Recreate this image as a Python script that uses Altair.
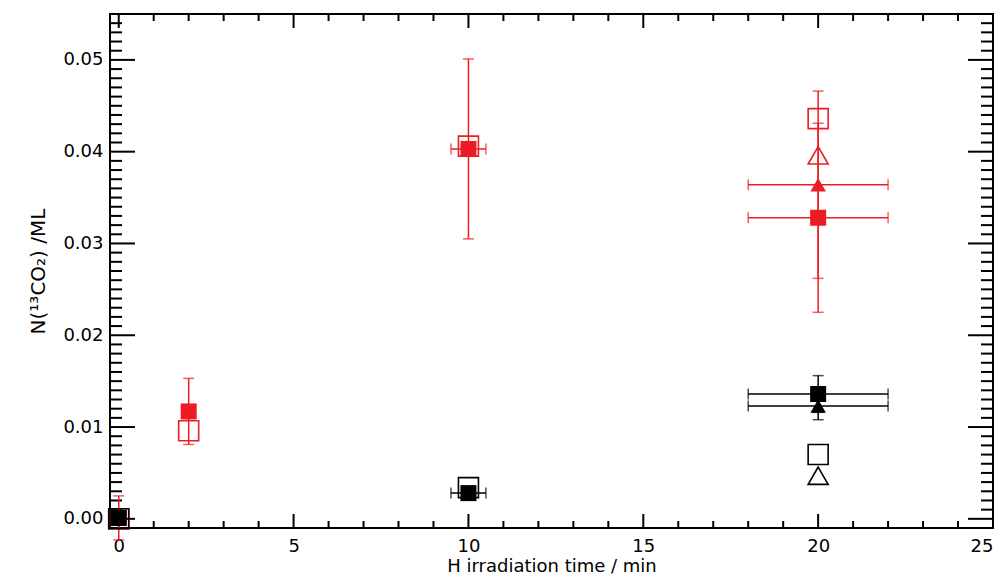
import altair as alt
import pandas as pd

RED = "#ed1c24"
BLACK = "#000000"
FONT = "DejaVu Sans"

# ---- data ----
# red, filled squares (with error bars)
rfs_x = [0, 2, 10, 20]
rfs_y = [0.0001, 0.0117, 0.0403, 0.0328]
rfs_xerr = [0, 0, 0.5, 2]
rfs_yerr = [0.0024, 0.0036, 0.0098, 0.0103]
# red, open squares
ros_x = [0, 2, 10, 20]
ros_y = [0.0, 0.0096, 0.0406, 0.0436]
# red, filled triangle (with error bars)
rft_x = [20]
rft_y = [0.0364]
rft_xerr = [2]
rft_yerr = [0.0102]
# red, open triangle
rot_x = [20]
rot_y = [0.0396]
# black, filled squares (with error bars)
bfs_x = [0, 10, 20]
bfs_y = [0.0001, 0.0028, 0.0136]
bfs_xerr = [0, 0.5, 2]
bfs_yerr = [0, 0, 0.0020]
# black, open squares
bos_x = [0, 10, 20]
bos_y = [0.0, 0.0034, 0.0070]
# black, filled triangle (with error bars)
bft_x = [20]
bft_y = [0.0123]
bft_xerr = [2]
bft_yerr = [0.0015]
# black, open triangle
bot_x = [20]
bot_y = [0.0047]

# axis ticks
x_major = [0, 5, 10, 15, 20, 25]
x_minor = [v for v in range(0, 26) if v % 5]
y_major = [0.00, 0.01, 0.02, 0.03, 0.04, 0.05]
y_minor = [round(i * 0.001, 3) for i in range(-1, 56) if i % 10]

W, H = 883, 514
XDOM = [-0.25, 25]
YDOM = [-0.001, 0.055]
xs = alt.Scale(domain=XDOM, nice=False, zero=False)
ys = alt.Scale(domain=YDOM, nice=False, zero=False)

x_axis = alt.Axis(values=x_major, format="d", ticks=False, tickSize=0, domain=False, grid=False,
                  labelFont=FONT, labelFontSize=18, labelColor="black", labelPadding=9,
                  labelFlush=4, labelOverlap=False,
                  title="H irradiation time / min", titleFont=FONT, titleFontSize=18,
                  titleFontWeight="normal", titleColor="black", titlePadding=2)
y_axis = alt.Axis(values=y_major, format=".2f", ticks=False, tickSize=0, domain=False, grid=False,
                  labelFont=FONT, labelFontSize=18, labelColor="black", labelPadding=7,
                  labelFlush=False, labelOverlap=False,
                  title="N(¹³CO₂) /ML", titleFont=FONT, titleFontSize=20,
                  titleFontWeight="normal", titleColor="black", titlePadding=14)

X = lambda f: alt.X(f, type="quantitative", scale=xs, axis=x_axis)
Y = lambda f: alt.Y(f, type="quantitative", scale=ys, axis=y_axis)


def err_frame(xv, yv, xe, ye, color):
    return pd.DataFrame({
        "x": xv, "y": yv,
        "xlo": [a - b for a, b in zip(xv, xe)], "xhi": [a + b for a, b in zip(xv, xe)],
        "ylo": [a - b for a, b in zip(yv, ye)], "yhi": [a + b for a, b in zip(yv, ye)],
        "xe": xe, "ye": ye, "c": color,
    })


def err_layers(df):
    color = df["c"].iloc[0]
    v = df[df["ye"] > 0]
    h = df[df["xe"] > 0]
    layers = []
    if len(v):
        layers.append(alt.Chart(v).mark_rule(color=color, strokeWidth=1.5).encode(
            x=X("x"), y=Y("ylo"), y2="yhi"))
        caps = pd.concat([v.assign(cy=v["ylo"]), v.assign(cy=v["yhi"])])
        layers.append(alt.Chart(caps).mark_tick(color=color, orient="horizontal", size=11,
                                                thickness=1.5).encode(x=X("x"), y=Y("cy")))
    if len(h):
        layers.append(alt.Chart(h).mark_rule(color=color, strokeWidth=1.5).encode(
            x=X("xlo"), x2="xhi", y=Y("y")))
        caps = pd.concat([h.assign(cx=h["xlo"]), h.assign(cx=h["xhi"])])
        layers.append(alt.Chart(caps).mark_tick(color=color, orient="vertical", size=11,
                                                thickness=1.5).encode(x=X("cx"), y=Y("y")))
    return layers


def pts(xv, yv, color, shape, filled, size):
    df = pd.DataFrame({"x": xv, "y": yv})
    if filled:
        m = alt.Chart(df).mark_point(shape=shape, filled=True, fill=color, opacity=1,
                                     size=size, strokeWidth=0)
    else:
        m = alt.Chart(df).mark_point(shape=shape, filled=False, stroke=color, opacity=1,
                                     size=size, strokeWidth=1.6)
    return m.encode(x=X("x"), y=Y("y"))


layers = []
# red series
layers += [pts(ros_x, ros_y, RED, "square", False, 400),
           pts(rot_x, rot_y, RED, "triangle-up", False, 400)]
layers += err_layers(err_frame(rfs_x, rfs_y, rfs_xerr, rfs_yerr, RED))
layers += err_layers(err_frame(rft_x, rft_y, rft_xerr, rft_yerr, RED))
layers += [pts(rfs_x, rfs_y, RED, "square", True, 256),
           pts(rft_x, rft_y, RED, "triangle-up", True, 240)]
# black series
layers += [pts(bos_x, bos_y, BLACK, "square", False, 400),
           pts(bot_x, bot_y, BLACK, "triangle-up", False, 400)]
layers += err_layers(err_frame(bfs_x, bfs_y, bfs_xerr, bfs_yerr, BLACK))
layers += err_layers(err_frame(bft_x, bft_y, bft_xerr, bft_yerr, BLACK))
layers += [pts(bfs_x, bfs_y, BLACK, "square", True, 256),
           pts(bft_x, bft_y, BLACK, "triangle-up", True, 240)]

# inward ticks on all four sides
def xticks(vals, length):
    df = pd.DataFrame({"v": vals})
    bottom = alt.Chart(df).mark_rule(color="black", strokeWidth=2).encode(
        x=X("v"), y=alt.value(H), y2=alt.value(H - length))
    top = alt.Chart(df).mark_rule(color="black", strokeWidth=2).encode(
        x=X("v"), y=alt.value(0), y2=alt.value(length))
    return [bottom, top]


def yticks(vals, length):
    df = pd.DataFrame({"v": vals})
    left = alt.Chart(df).mark_rule(color="black", strokeWidth=2).encode(
        y=Y("v"), x=alt.value(0), x2=alt.value(length))
    right = alt.Chart(df).mark_rule(color="black", strokeWidth=2).encode(
        y=Y("v"), x=alt.value(W), x2=alt.value(W - length))
    return [left, right]


tick_layers = xticks(x_major, 14) + xticks(x_minor, 7) + yticks(y_major, 25) + yticks(y_minor, 12)

chart = alt.layer(*(tick_layers + layers)).properties(
    width=W, height=H,
    autosize=alt.AutoSizeParams(type="none"),
    padding={"left": 102, "top": 6, "right": 4, "bottom": 48},
    background="white",
).configure_view(stroke="black", strokeWidth=2)

chart.save("out.html", embed_options={"renderer": "svg", "actions": False})
